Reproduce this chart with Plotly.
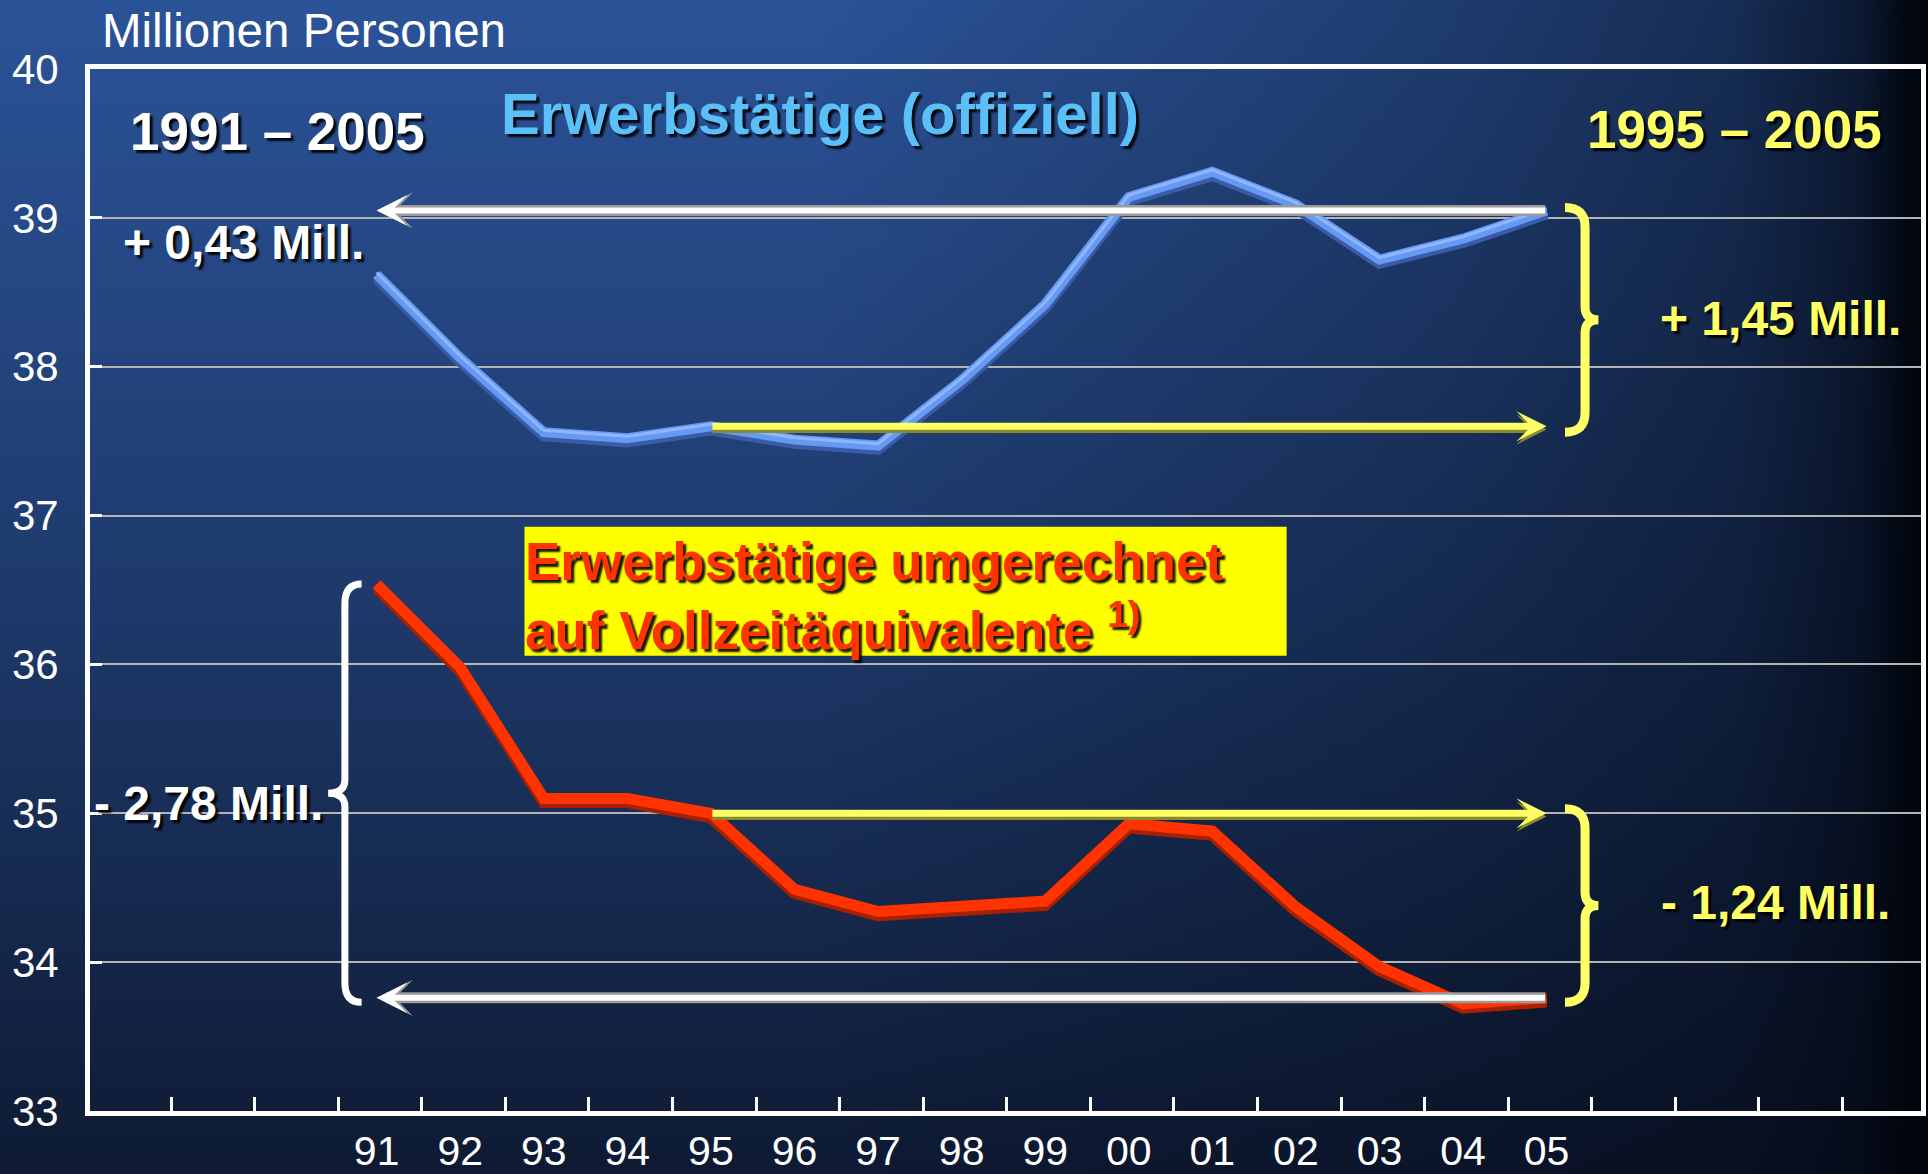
import plotly.graph_objects as go

W, H = 1928, 1174

# ---------------- data ----------------
years = list(range(1991, 2006))
year_labels = ["91", "92", "93", "94", "95", "96", "97", "98", "99",
               "00", "01", "02", "03", "04", "05"]
official = [38.62, 38.06, 37.56, 37.52, 37.60, 37.51, 37.47, 37.91,
            38.42, 39.14, 39.31, 39.09, 38.72, 38.86, 39.05]
fte = [36.54, 35.98, 35.10, 35.10, 35.00, 34.49, 34.34, 34.37,
       34.41, 34.93, 34.88, 34.37, 33.97, 33.72, 33.76]
y_ticks = [33, 34, 35, 36, 37, 38, 39, 40]
boundary_years = list(range(1989, 2010))

# ---------------- geometry ----------------
L, R, T, B = 90, 1921, 69, 1111
x_dom = [L / W, R / W]
y_dom = [1 - B / H, 1 - T / H]
x_range = [1987.57, 2009.48]
y_range = [33, 40]
tick_bounds = [b - 0.46 for b in boundary_years]

FONT = "Liberation Sans, Arial, sans-serif"
SHADOW = "3px 3px 2px rgba(0,0,0,0.9)"
YELLOW = "#FFFF66"


def P(px, py):
    return px / W, 1 - py / H


fig = go.Figure()

# background gradient (full page)
fig.add_trace(go.Scatter(
    x=[0, 1, 1, 0, 0], y=[0, 0, 1, 1, 0], xaxis="x", yaxis="y",
    mode="none", fill="toself", fillcolor="#1A3260",
    fillgradient=dict(type="vertical", start=0, stop=1,
                      colorscale=[[0, "#0E1A33"], [0.5, "#1E3A6C"], [1, "#2B5398"]]),
    hoverinfo="skip", showlegend=False))
fig.add_trace(go.Scatter(
    x=[0, 1, 1, 0, 0], y=[0, 0, 1, 1, 0], xaxis="x", yaxis="y",
    mode="none", fill="toself", fillcolor="rgba(0,0,0,0)",
    fillgradient=dict(type="horizontal", start=0, stop=1,
                      colorscale=[[0, "rgba(2,6,16,0)"], [0.42, "rgba(2,6,16,0)"],
                                  [0.75, "rgba(2,6,16,0.3)"], [0.9, "rgba(2,6,16,0.5)"],
                                  [0.965, "rgba(2,6,16,0.75)"], [0.99, "rgba(0,4,10,0.95)"],
                                  [1, "rgba(0,4,10,0.97)"]]),
    hoverinfo="skip", showlegend=False))

# official employment line (3D look)
fig.add_trace(go.Scatter(x=years, y=[v - 0.025 for v in official], xaxis="x2", yaxis="y2",
                         mode="lines", line=dict(color="#3A5CA8", width=11),
                         hoverinfo="skip", showlegend=False))
fig.add_trace(go.Scatter(x=years, y=official, xaxis="x2", yaxis="y2",
                         mode="lines", line=dict(color="#6699F2", width=10),
                         name="Erwerbstätige (offiziell)", showlegend=False))
fig.add_trace(go.Scatter(x=years, y=[v + 0.013 for v in official], xaxis="x2", yaxis="y2",
                         mode="lines", line=dict(color="#8FB6FF", width=3),
                         hoverinfo="skip", showlegend=False))

# full-time equivalent line
fig.add_trace(go.Scatter(x=years, y=[v - 0.025 for v in fte], xaxis="x2", yaxis="y2",
                         mode="lines", line=dict(color="#A82000", width=12),
                         hoverinfo="skip", showlegend=False))
fig.add_trace(go.Scatter(x=years, y=fte, xaxis="x2", yaxis="y2",
                         mode="lines", line=dict(color="#FF3300", width=11),
                         name="Vollzeitäquivalente", showlegend=False))

# invisible trace for the boundary-tick overlay axis
fig.add_trace(go.Scatter(x=years[:1], y=fte[:1], xaxis="x3", yaxis="y2", mode="lines",
                         line=dict(width=0), hoverinfo="skip", showlegend=False))

# ---------------- annotations ----------------
ann = []


def text(s, px, py, size, color, bold=True, shadow=True, xanchor="center",
         yanchor="middle", align="center"):
    x, y = P(px, py)
    f = dict(family=FONT, size=size, color=color)
    if bold:
        f["weight"] = "bold"
    if shadow:
        f["shadow"] = SHADOW
    ann.append(dict(text=s, x=x, y=y, xref="paper", yref="paper", showarrow=False,
                    xanchor=xanchor, yanchor=yanchor, align=align, font=f))


text("Millionen Personen", 100, 31, 47.5, "white", bold=False, shadow=False, xanchor="left")
text("1991 – 2005", 277, 131, 53, "white")
text("Erwerbstätige (offiziell)", 820, 113, 58, "#5BC0F8")
text("1995 – 2005", 1734, 130, 53, YELLOW)
text("+ 0,43 Mill.", 243, 242, 48, "white")
text("+ 1,45 Mill.", 1780, 318, 48, YELLOW)
text("- 1,24 Mill.", 1775, 902, 48, YELLOW)
text("- 2,78 Mill.", 208, 803, 48, "white")
text("Erwerbstätige umgerechnet<br>auf Vollzeitäquivalente <sup>1)</sup>", 523, 530, 53,
     "#FF3300", xanchor="left", yanchor="top", align="left")


def arrow(hx, hy, tx, ty, color, width, size):
    ann.append(dict(x=hx, y=hy, ax=tx, ay=ty, xref="x2", yref="y2", axref="x2", ayref="y2",
                    showarrow=True, arrowhead=3, arrowwidth=width, arrowsize=size,
                    arrowcolor=color, text="", standoff=0))


# white arrows (1991-2005 comparison)
for lvl in (official[-1], fte[-1]):
    arrow(years[0], lvl, years[-1], lvl, "#9A9A9A", 11, 0.55)
    arrow(years[0], lvl, years[-1], lvl, "white", 6, 0.85)
# yellow arrows (1995-2005 comparison)
for lvl in (official[4], fte[4]):
    arrow(years[-1], lvl - 0.022, years[4], lvl - 0.022, "#8A8A2E", 7, 0.72)
    arrow(years[-1], lvl, years[4], lvl, YELLOW, 7, 0.72)

# ---------------- braces & box ----------------


def brace_path(x_open, x_spine, x_tip, y_top, y_bot, d_end=0.13, d_mid=0.09):
    ym = (y_top + y_bot) / 2
    return (f"M{x_open},{y_top} Q{x_spine},{y_top} {x_spine},{y_top - d_end} "
            f"L{x_spine},{ym + d_mid} Q{x_spine},{ym} {x_tip},{ym} "
            f"Q{x_spine},{ym} {x_spine},{ym - d_mid} "
            f"L{x_spine},{y_bot + d_end} Q{x_spine},{y_bot} {x_open},{y_bot}")


shapes = []
xe = years[-1]
xs = years[0]
shapes.append(dict(type="path", xref="x2", yref="y2", layer="above",
                   path=brace_path(xe + 0.22, xe + 0.46, xe + 0.62,
                                   official[-1] + 0.02, official[4] - 0.04),
                   line=dict(color=YELLOW, width=9)))
shapes.append(dict(type="path", xref="x2", yref="y2", layer="above",
                   path=brace_path(xe + 0.22, xe + 0.46, xe + 0.62,
                                   fte[4] + 0.03, fte[-1] - 0.03),
                   line=dict(color=YELLOW, width=9)))
shapes.append(dict(type="path", xref="x2", yref="y2", layer="above",
                   path=brace_path(xs - 0.18, xs - 0.38, xs - 0.58,
                                   fte[0], fte[-1] - 0.03),
                   line=dict(color="white", width=7)))
bx0, by0 = P(524.5, 526.7)
bx1, by1 = P(1286.6, 655.7)
shapes.append(dict(type="rect", xref="paper", yref="paper", layer="above",
                   x0=bx0, x1=bx1, y0=by1, y1=by0, fillcolor="#FFFF00",
                   line=dict(width=0)))

fig.update_layout(
    width=W, height=H,
    margin=dict(l=0, r=0, t=0, b=0, pad=0, autoexpand=False),
    paper_bgcolor="#101C38", plot_bgcolor="rgba(0,0,0,0)",
    showlegend=False,
    font=dict(family=FONT, color="white"),
    xaxis=dict(domain=[0, 1], range=[0, 1], visible=False, fixedrange=True),
    yaxis=dict(domain=[0, 1], range=[0, 1], visible=False, fixedrange=True),
    xaxis2=dict(domain=x_dom, range=x_range, anchor="y2",
                tickmode="array", tickvals=years, ticktext=year_labels,
                ticks="", ticklabelstandoff=0,
                tickfont=dict(family=FONT, size=41, color="white"),
                showgrid=False, zeroline=False,
                showline=True, mirror=True, linecolor="white", linewidth=5,
                automargin=False, fixedrange=True),
    xaxis3=dict(overlaying="x2", anchor="y2", range=x_range,
                tickmode="array", tickvals=tick_bounds, ticks="inside",
                ticklen=14, tickwidth=3, tickcolor="white",
                showticklabels=False, showgrid=False, zeroline=False,
                showline=False, automargin=False, fixedrange=True),
    yaxis2=dict(domain=y_dom, range=y_range, anchor="x2",
                tickmode="array", tickvals=y_ticks,
                ticks="inside", ticklen=12, tickwidth=3, tickcolor="white",
                ticklabelstandoff=18,
                tickfont=dict(family=FONT, size=42, color="white"),
                showgrid=True, gridcolor="#B4B4B4", gridwidth=2, zeroline=False,
                showline=True, mirror=True, linecolor="white", linewidth=5,
                automargin=False, fixedrange=True),
    annotations=ann,
    shapes=shapes,
)

fig.write_html("out.html", config={"displayModeBar": False},
               post_script="document.body.style.margin='0';document.body.style.overflow='hidden';")
